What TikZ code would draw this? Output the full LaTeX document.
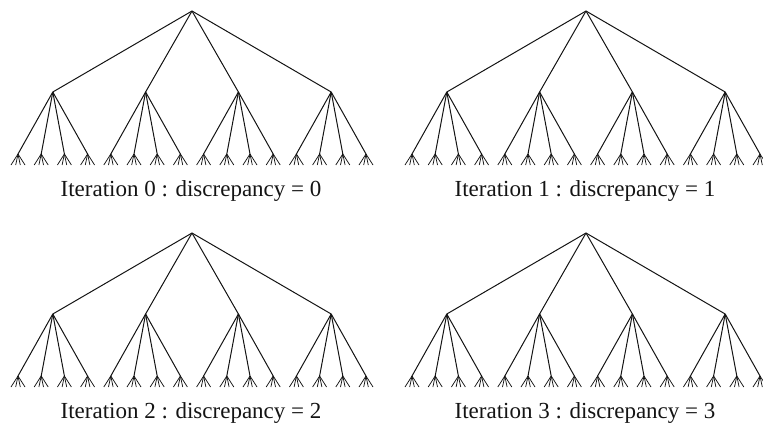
\documentclass[tikz,border=0pt]{standalone}
\usepackage{fontspec}
\setmainfont{Liberation Serif}
\usepackage{tikz}
\usetikzlibrary{positioning,calc}
\definecolor{TInk}{HTML}{141414}

\begin{document}
\begin{tikzpicture}[x=1pt,y=-1pt,
    treeedge/.style={draw=TInk,line width=1pt},
    leafedge/.style={draw=TInk,line width=0.75pt},
    iterlabel/.style={text=TInk,inner sep=0pt,font=\fontsize{23}{27}\selectfont}]
    \useasboundingbox (0,0) rectangle (763,432);
    \clip (0,0) rectangle (763,432);
    % one search tree per iteration
    \foreach \t/\ox/\oy in {0/0/0,1/394/0,2/0/222,3/394/222} {
      \coordinate (r\t) at (192+\ox,11+\oy);
      \foreach \i in {1,...,4} {
        \coordinate (n\t-\i) at ({\ox+18+23.2*(4*\i-4)+34.8},92+\oy);
        \draw[treeedge] (r\t) -- (n\t-\i);
        \foreach \j in {1,...,4} {
          \coordinate (m\t-\i-\j) at ({\ox+18+23.2*(4*\i+\j-5)},154+\oy);
          \draw[treeedge] (n\t-\i) -- (m\t-\i-\j);
          \foreach \k/\dx in {1/-7,2/-2.3,3/2.3,4/7} {
            \coordinate (l\t-\i-\j-\k) at ($(m\t-\i-\j)+(\dx,11)$);
            \draw[leafedge] (m\t-\i-\j) -- (l\t-\i-\j-\k);
          }
        }
      }
      \node[iterlabel] (cap\t) at (191+\ox,191+\oy) {Iteration \t{} : discrepancy = \t};
    }
\end{tikzpicture}
\end{document}
